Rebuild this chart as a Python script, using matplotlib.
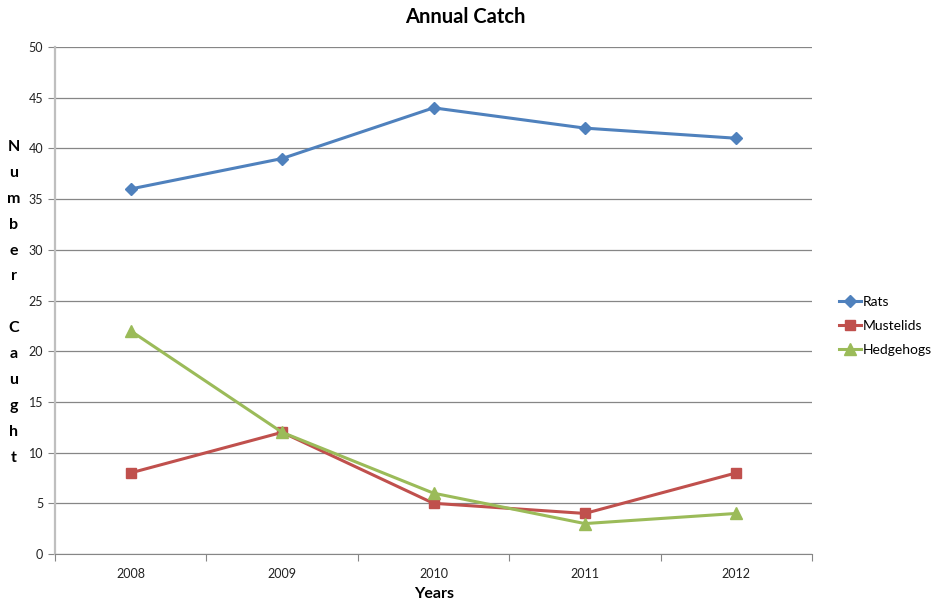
import matplotlib
matplotlib.use("Agg")
import matplotlib.pyplot as plt
from matplotlib.lines import Line2D

years = ["2008", "2009", "2010", "2011", "2012"]
rats = [36, 39, 44, 42, 41]
mustelids = [8, 12, 5, 4, 8]
hedgehogs = [22, 12, 6, 3, 4]

plt.rcParams["font.family"] = ["Lato", "DejaVu Sans"]

W, H = 931, 605
fig = plt.figure(figsize=(W / 100, H / 100), dpi=100)
ax = fig.add_axes([55 / W, (H - 554) / H, (812 - 55) / W, (554 - 47) / H])

x = list(range(len(years)))
ax.plot(x, rats, color="#4F81BD", lw=2.2, marker="D", ms=6, label="Rats", zorder=3)
ax.plot(x, mustelids, color="#C0504D", lw=2.2, marker="s", ms=7, label="Mustelids", zorder=3)
ax.plot(x, hedgehogs, color="#9BBB59", lw=2.2, marker="^", ms=8, label="Hedgehogs", zorder=3)

ax.set_xlim(-0.5, len(years) - 0.5)
ax.set_ylim(0, 50)
ax.set_yticks(range(0, 51, 5))
ax.yaxis.grid(True, color="#868686", lw=0.9)
ax.set_axisbelow(True)

ax.set_xticks([i - 0.5 for i in range(len(years) + 1)])
ax.set_xticklabels([])
ax.set_xticks(x, minor=True)
ax.set_xticklabels(years, minor=True)
ax.tick_params(axis="x", which="minor", length=0, pad=10, labelsize=9, colors="#222222")
ax.tick_params(axis="x", which="major", length=5, color="#868686")
ax.tick_params(axis="y", length=5, color="#868686", labelsize=9, labelcolor="#222222")

for side in ("top", "right"):
    ax.spines[side].set_visible(False)
ax.spines["left"].set_color("#BFBFBF")
ax.spines["left"].set_linewidth(1.6)
ax.spines["bottom"].set_color("#868686")

fig.text(465 / W, 1 - 17 / H, "Annual Catch", ha="center", va="center",
         fontsize=14.5, fontweight="bold")
fig.text(434 / W, 1 - 594 / H, "Years", ha="center", va="center",
         fontsize=11.5, fontweight="bold")

letters = "Number Caught"
for i, ch in enumerate(letters):
    fig.text(14 / W, 1 - (147 + 25.9 * i) / H, ch, ha="center", va="center",
             fontsize=11.5, fontweight="bold")

handles = [
    Line2D([], [], color="#4F81BD", lw=2.2, marker="D", ms=6),
    Line2D([], [], color="#C0504D", lw=2.2, marker="s", ms=7),
    Line2D([], [], color="#9BBB59", lw=2.2, marker="^", ms=8),
]
fig.legend(handles, ["Rats", "Mustelids", "Hedgehogs"], loc="center left",
           bbox_to_anchor=(832 / W, 1 - 326 / H), frameon=False, fontsize=10,
           handlelength=1.6, handletextpad=0.15, labelspacing=0.85, borderpad=0)

fig.savefig("out.png", dpi=100)
